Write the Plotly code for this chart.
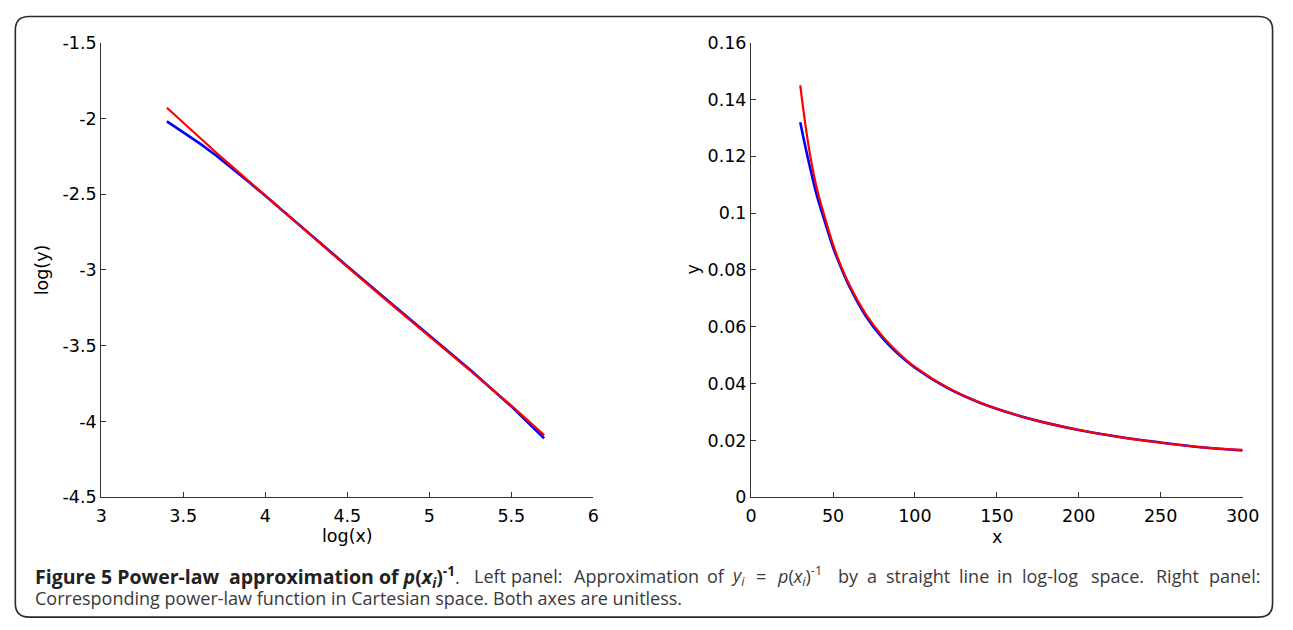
import plotly.graph_objects as go

# ---------------- data ----------------
# Left panel: log-log space
left_logx = [3.40, 3.50, 3.60, 3.70, 3.80, 3.90, 4.00, 4.25, 4.50, 4.75, 5.00, 5.25, 5.50, 5.70]
left_blue = [-2.02, -2.09, -2.165, -2.245, -2.33, -2.42, -2.51, -2.745, -2.975, -3.205, -3.43, -3.66, -3.90, -4.11]
left_red = [-1.93, -2.03, -2.13, -2.225, -2.32, -2.415, -2.51, -2.745, -2.98, -3.21, -3.435, -3.665, -3.895, -4.09]

# Right panel: Cartesian space
right_x = [30, 33, 36, 40, 45, 50, 55, 60, 70, 80, 90, 100, 120, 140, 160, 180, 200, 225, 250, 275, 300]
right_blue = [0.132, 0.1237, 0.116, 0.1065, 0.097, 0.088, 0.0807, 0.0742, 0.0638, 0.0562, 0.0503, 0.0456,
              0.0384, 0.0332, 0.0293, 0.0262, 0.0237, 0.0212, 0.0193, 0.0176, 0.0165]
right_red = [0.145, 0.1317, 0.1205, 0.109, 0.0985, 0.089, 0.0812, 0.0748, 0.0645, 0.0568, 0.0508, 0.0459,
             0.0386, 0.0333, 0.0293, 0.0262, 0.0237, 0.0212, 0.0192, 0.0176, 0.0167]

left_xticks = [3, 3.5, 4, 4.5, 5, 5.5, 6]
left_xticklabels = ["3", "3.5", "4", "4.5", "5", "5.5", "6"]
left_yticks = [-1.5, -2, -2.5, -3, -3.5, -4, -4.5]
left_yticklabels = ["-1.5", "-2", "-2.5", "-3", "-3.5", "-4", "-4.5"]
right_xticks = [0, 50, 100, 150, 200, 250, 300]
right_xticklabels = ["0", "50", "100", "150", "200", "250", "300"]
right_yticks = [0, 0.02, 0.04, 0.06, 0.08, 0.1, 0.12, 0.14, 0.16]
right_yticklabels = ["0", "0.02", "0.04", "0.06", "0.08", "0.1", "0.12", "0.14", "0.16"]

caption_bold_a = "Figure 5 Power-law"
caption_bold_b = "approximation of <i>p</i>(<i>x<sub>i</sub></i>)<sup>-1</sup>"
caption_line1_rest = ["Left", "panel:", "Approximation", "of", "<i>y<sub>i</sub></i>", "=",
                      "<i>p</i>(<i>x<sub>i</sub></i>)<sup>-1</sup>", "by", "a", "straight", "line",
                      "in", "log-log", "space.", "Right", "panel:"]
caption_line2 = "Corresponding power-law function in Cartesian space. Both axes are unitless."

# ---------------- layout geometry ----------------
W, H = 1293, 630
def px(x):
    return x / W
def py(y):
    return 1 - y / H

TOP, BOT = 33.7, 503.3
L1, R1 = 97.0, 598.0
L2, R2 = 758.6, 1259.0

fig = go.Figure()
fig.add_trace(go.Scatter(x=left_logx, y=left_blue, mode="lines", line=dict(color="#0000ff", width=2.6),
                         xaxis="x", yaxis="y", showlegend=False, hoverinfo="skip"))
fig.add_trace(go.Scatter(x=left_logx, y=left_red, mode="lines", line=dict(color="#ff0000", width=2.2),
                         xaxis="x", yaxis="y", showlegend=False, hoverinfo="skip"))
fig.add_trace(go.Scatter(x=right_x, y=right_blue, mode="lines", line=dict(color="#0000ff", width=2.6, shape="spline"),
                         xaxis="x2", yaxis="y2", showlegend=False, hoverinfo="skip"))
fig.add_trace(go.Scatter(x=right_x, y=right_red, mode="lines", line=dict(color="#ff0000", width=2.2, shape="spline"),
                         xaxis="x2", yaxis="y2", showlegend=False, hoverinfo="skip"))

tickfont = dict(family="DejaVu Sans", size=17.5, color="#000000")
axis_common = dict(showline=True, linecolor="#333333", linewidth=1.2, ticks="inside", ticklen=5,
                   tickcolor="#333333", tickwidth=1, showgrid=False, zeroline=False, mirror=False,
                   tickfont=tickfont, fixedrange=True)

fig.update_layout(
    width=W, height=H,
    margin=dict(l=0, r=0, t=0, b=0),
    paper_bgcolor="white", plot_bgcolor="white",
    xaxis=dict(domain=[px(L1), px(R1)], range=[3, 6], tickvals=left_xticks, ticktext=left_xticklabels,
               anchor="y", ticklabelstandoff=3, **axis_common),
    yaxis=dict(domain=[py(BOT), py(TOP)], range=[-4.5, -1.5], tickvals=left_yticks, ticktext=left_yticklabels,
               anchor="x", **axis_common),
    xaxis2=dict(domain=[px(L2), px(R2)], range=[0, 300], tickvals=right_xticks, ticktext=right_xticklabels,
                anchor="y2", ticklabelstandoff=3, **axis_common),
    yaxis2=dict(domain=[py(BOT), py(TOP)], range=[0, 0.16], tickvals=right_yticks, ticktext=right_yticklabels,
                anchor="x2", **axis_common),
)

titlefont = dict(family="DejaVu Sans", size=17.5, color="#000000")
ann = []
ann.append(dict(text="log(x)", x=px((L1 + R1) / 2), y=py(543), xref="paper", yref="paper",
                xanchor="center", yanchor="middle", showarrow=False, font=titlefont))
ann.append(dict(text="x", x=px((L2 + R2) / 2), y=py(544), xref="paper", yref="paper",
                xanchor="center", yanchor="middle", showarrow=False, font=titlefont))
ann.append(dict(text="log(y)", x=px(37), y=py((TOP + BOT) / 2), xref="paper", yref="paper",
                xanchor="center", yanchor="middle", showarrow=False, textangle=-90, font=titlefont))
ann.append(dict(text="y", x=px(699), y=py((TOP + BOT) / 2), xref="paper", yref="paper",
                xanchor="center", yanchor="middle", showarrow=False, textangle=-90, font=titlefont))

# justified caption: word positions (pixels) measured on the reference
rest_pos = [475, 513, 577, 713, 737, 763, 784, 846, 876, 895, 969, 1008, 1033, 1104, 1170, 1224]
capfont_b = dict(family="Open Sans", size=19.5, color="#222222")
capfont = dict(family="Open Sans", size=18, color="#3a3a3a")
LINE1, LINE2 = 585, 607
ann.append(dict(text="<b>" + caption_bold_a + "</b>", x=px(28), y=py(LINE1), xref="paper", yref="paper",
                borderpad=0, xanchor="left", yanchor="middle", showarrow=False, font=capfont_b))
ann.append(dict(text="<b>" + caption_bold_b + "</b><span style='color:#3a3a3a;font-size:18px'>.</span>",
                x=px(463), y=py(LINE1), xref="paper", yref="paper",
                borderpad=0, xanchor="right", yanchor="middle", showarrow=False, font=capfont_b))
for word, xp in zip(caption_line1_rest, rest_pos):
    ann.append(dict(text=word, x=px(xp), y=py(LINE1), xref="paper", yref="paper", borderpad=0,
                    xanchor="left", yanchor="middle", showarrow=False, font=capfont))
ann.append(dict(text=caption_line2, x=px(28), y=py(LINE2), xref="paper", yref="paper", borderpad=0,
                xanchor="left", yanchor="middle", showarrow=False, font=capfont))
fig.update_layout(annotations=ann)

# rounded outer frame
x0, x1, y0, y1, r = 9.5, 1289.5, 6.7, 627.0, 14
path = (f"M {px(x0 + r)} {py(y0)} L {px(x1 - r)} {py(y0)} "
        f"Q {px(x1)} {py(y0)} {px(x1)} {py(y0 + r)} "
        f"L {px(x1)} {py(y1 - r)} Q {px(x1)} {py(y1)} {px(x1 - r)} {py(y1)} "
        f"L {px(x0 + r)} {py(y1)} Q {px(x0)} {py(y1)} {px(x0)} {py(y1 - r)} "
        f"L {px(x0)} {py(y0 + r)} Q {px(x0)} {py(y0)} {px(x0 + r)} {py(y0)} Z")
fig.update_layout(shapes=[dict(type="path", path=path, xref="paper", yref="paper",
                               line=dict(color="#2a2a2a", width=1.6), fillcolor="rgba(0,0,0,0)", layer="below")])

fig.write_html("out.html", config={"displayModeBar": False})
